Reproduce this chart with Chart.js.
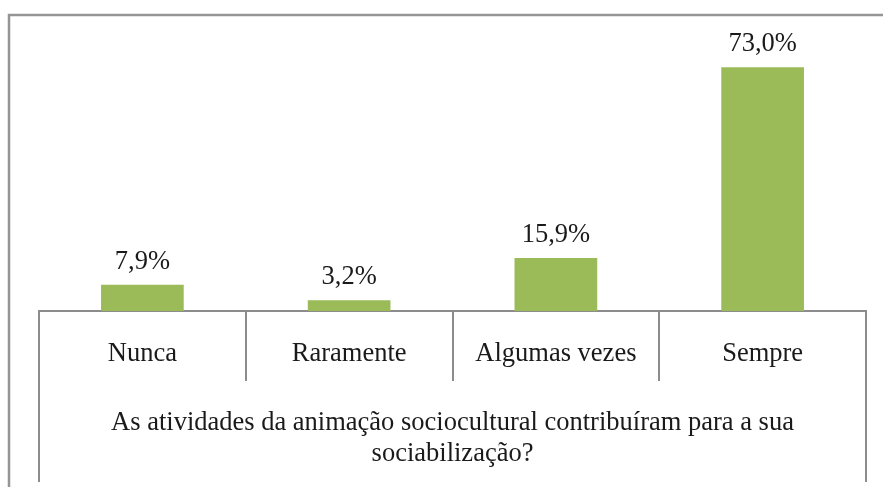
<!DOCTYPE html>
<html>
<head>
<meta charset="utf-8">
<script src="https://cdn.jsdelivr.net/npm/chart.js@4/dist/chart.umd.min.js"></script>
<style>
  html, body { margin: 0; padding: 0; background: #fff; }
  #wrap { width: 883px; height: 487px; position: relative; }
</style>
</head>
<body>
<div id="wrap"><canvas id="chart"></canvas></div>
<script>
// data
const categories = ['Nunca', 'Raramente', 'Algumas vezes', 'Sempre'];
const percentages = [7.9, 3.2, 15.9, 73.0];
const axisTitle = ['As atividades da animação sociocultural contribuíram para a sua', 'sociabilização?'];

const FONT = '"Liberation Serif", "Times New Roman", serif';
const LINE = '#8c8c8c';

// value labels above the bars, e.g. "73,0%"
const valueLabels = {
    id: 'valueLabels',
    afterDatasetsDraw(chart) {
        const ctx = chart.ctx;
        const meta = chart.getDatasetMeta(0);
        ctx.save();
        ctx.font = '26.5px ' + FONT;
        ctx.fillStyle = '#1a1a1a';
        ctx.textAlign = 'center';
        ctx.textBaseline = 'middle';
        meta.data.forEach((bar, i) => {
            const txt = percentages[i].toFixed(1).replace('.', ',') + '%';
            ctx.fillText(txt, bar.x, bar.y - 23);
        });
        ctx.restore();
    }
};

// outer frame and the table-like lines under the axis
const frameLines = {
    id: 'frameLines',
    afterDraw(chart) {
        const ctx = chart.ctx;
        const x = chart.scales.x;
        const area = chart.chartArea;
        ctx.save();
        ctx.strokeStyle = '#959595';
        ctx.lineWidth = 2.5;
        ctx.beginPath();
        ctx.moveTo(9, 487);
        ctx.lineTo(9, 15);
        ctx.lineTo(883, 15);
        ctx.stroke();

        ctx.strokeStyle = LINE;
        ctx.lineWidth = 2;
        const step = (x.right - x.left) / categories.length;
        ctx.beginPath();
        ctx.moveTo(x.left, area.bottom);
        ctx.lineTo(x.left, 482);
        ctx.moveTo(x.right, area.bottom);
        ctx.lineTo(x.right, 482);
        for (let i = 1; i < categories.length; i++) {
            const px = Math.round(x.left + i * step);
            ctx.moveTo(px, area.bottom);
            ctx.lineTo(px, 381);
        }
        ctx.stroke();
        ctx.restore();
    }
};

new Chart(document.getElementById('chart'), {
    type: 'bar',
    data: {
        labels: categories,
        datasets: [{
            data: percentages,
            backgroundColor: '#9bbb59',
            borderWidth: 0,
            categoryPercentage: 1,
            barPercentage: 0.4
        }]
    },
    options: {
        responsive: true,
        maintainAspectRatio: false,
        animation: false,
        devicePixelRatio: 1,
        layout: { padding: { top: 44, left: 39, right: 17, bottom: 0 } },
        plugins: {
            legend: { display: false },
            tooltip: { enabled: false }
        },
        scales: {
            y: {
                display: false,
                min: 0,
                max: 80
            },
            x: {
                afterFit(scale) { scale.height = 176; },
                grid: { display: false, drawTicks: false },
                border: { display: true, color: LINE, width: 2 },
                ticks: {
                    color: '#1a1a1a',
                    font: { family: FONT, size: 26.5 },
                    padding: 27,
                    maxRotation: 0
                },
                title: {
                    display: true,
                    text: axisTitle,
                    color: '#1a1a1a',
                    font: { family: FONT, size: 26.5, lineHeight: 1.17 },
                    padding: { top: 0, bottom: 17 }
                }
            }
        }
    },
    plugins: [valueLabels, frameLines]
});
</script>
</body>
</html>
